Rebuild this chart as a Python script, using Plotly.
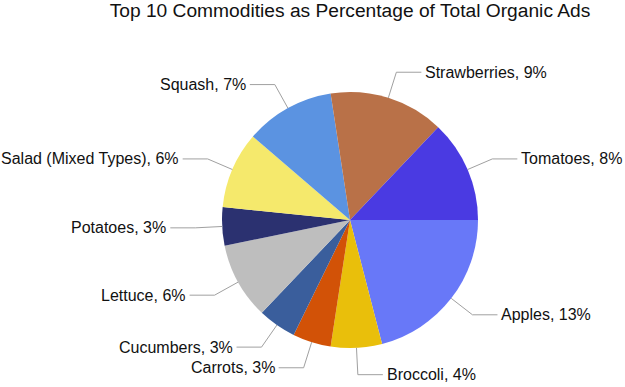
import math
import plotly.graph_objects as go

commodities = ["Apples", "Broccoli", "Carrots", "Cucumbers", "Lettuce", "Potatoes",
               "Salad (Mixed Types)", "Squash", "Strawberries", "Tomatoes"]
percentages = [13, 4, 3, 3, 6, 3, 6, 7, 9, 8]
colors = ["#6878F8", "#E9BF0B", "#D25207", "#3A5E9C", "#BEBEBE", "#2B3170",
          "#F5E96C", "#5B93E1", "#B97148", "#4A3AE2"]

W, H = 625, 387
CX, CY, R = 350, 220, 128

fig = go.Figure(go.Pie(
    labels=commodities, values=percentages, sort=False, direction="clockwise",
    rotation=90, marker=dict(colors=colors, line=dict(width=0)),
    textinfo="none", hoverinfo="label+value", showlegend=False,
    domain=dict(x=[(CX - R) / W, (CX + R) / W], y=[1 - (CY + R) / H, 1 - (CY - R) / H]),
))

def px(x, y):
    return x / W, 1 - y / H

total = sum(percentages)
shapes, annotations = [], []
cum = 0
for name, v in zip(commodities, percentages):
    mid = (cum + v / 2) / total * 360
    cum += v
    a = math.radians(mid)
    ex, ey = CX + R * math.cos(a), CY + R * math.sin(a)
    bx, by = CX + 1.21 * R * math.cos(a), CY + 1.21 * R * math.sin(a)
    side = 1 if math.cos(a) > 0 else -1
    hx = bx + side * 25
    p = [px(ex, ey), px(bx, by), px(hx, by)]
    path = "M {} {} L {} {} L {} {}".format(p[0][0], p[0][1], p[1][0], p[1][1], p[2][0], p[2][1])
    shapes.append(dict(type="path", xref="paper", yref="paper", path=path,
                       line=dict(color="#a0a0a0", width=1)))
    tx, ty = px(hx + side * 2, by)
    annotations.append(dict(x=tx, y=ty, xref="paper", yref="paper",
                            text=f"{name}, {v}%", showarrow=False,
                            xanchor="left" if side > 0 else "right", yanchor="middle",
                            font=dict(family="Liberation Sans, Arial", size=16, color="#111111")))

fig.update_layout(
    width=W, height=H, margin=dict(l=0, r=0, t=0, b=0),
    paper_bgcolor="white", plot_bgcolor="white",
    title=dict(text="Top 10 Commodities as Percentage of Total Organic Ads",
               x=CX / W, xanchor="center", y=1 - 10 / H, yanchor="middle",
               font=dict(family="Liberation Sans, Arial", size=19.2, color="#111111")),
    shapes=shapes, annotations=annotations,
)

fig.write_html("out.html", config={"displayModeBar": False},
               post_script="document.body.style.margin='0';document.body.style.overflow='hidden';")
